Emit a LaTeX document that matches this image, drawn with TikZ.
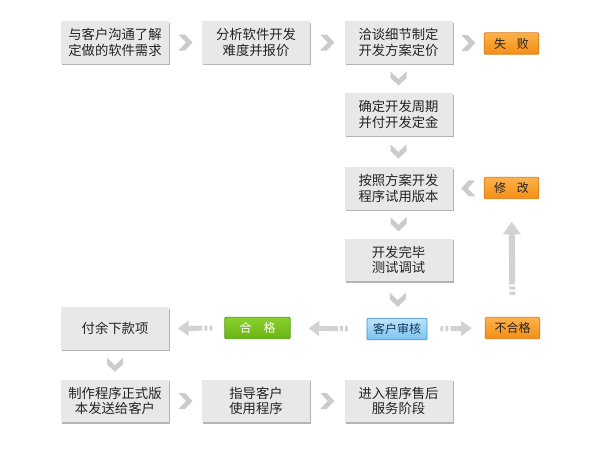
\documentclass[tikz,border=0pt]{standalone}
\usepackage{fontspec}
\setmainfont{Noto Sans CJK SC}
\usetikzlibrary{calc,shadows,arrows.meta}
\definecolor{boxfill}{HTML}{E8E8E8}
\definecolor{boxshadow}{HTML}{B4B4B4}
\definecolor{textdark}{HTML}{222222}
\definecolor{chevgray}{HTML}{CBCBCB}
\definecolor{arrgray}{HTML}{D2D2D2}
\definecolor{orangetop}{HTML}{FCB24C}
\definecolor{orangebot}{HTML}{F48E14}
\definecolor{orangeedge}{HTML}{D97A18}
\definecolor{greentop}{HTML}{8BD02E}
\definecolor{greenbot}{HTML}{6AB414}
\definecolor{greenedge}{HTML}{4E9A10}
\definecolor{bluetop}{HTML}{BCE3FA}
\definecolor{bluebot}{HTML}{7CC3EF}
\definecolor{blueedge}{HTML}{3F8EC7}
\definecolor{bluetext}{HTML}{16375C}
\tikzset{
  stepbox/.style={fill=boxfill, minimum width=81pt, minimum height=32pt, inner sep=0pt,
    align=center, text=textdark, font=\fontsize{10}{11.6}\selectfont,
    drop shadow={shadow xshift=1pt, shadow yshift=-1pt, fill=boxshadow, opacity=1}},
  tagbox/.style={minimum width=41pt, minimum height=16pt, inner sep=0pt, rounded corners=0.8pt,
    font=\fontsize{9}{10}\selectfont},
  orangetag/.style={tagbox, top color=orangetop, bottom color=orangebot, draw=orangeedge, line width=0.6pt, text=textdark},
  greentag/.style={tagbox, minimum width=49pt, top color=greentop, bottom color=greenbot, draw=greenedge, line width=0.6pt, text=white},
  bluetag/.style={tagbox, minimum width=45pt, top color=bluetop, bottom color=bluebot, draw=blueedge, line width=0.6pt, text=bluetext},
  chev/.pic={\fill[chevgray] (-7,-8) -- (-0.5,-8) -- (7,0) -- (-0.5,8) -- (-7,8) -- (0.5,0) -- cycle;},
  harr/.style={draw=arrgray, line width=3.75pt,
    dash pattern=on 2.2pt off 1.6pt on 2.2pt off 1.6pt on 60pt off 0pt,
    -{Triangle[length=8pt,width=11pt]}},
  varr/.style={draw=arrgray, line width=4.5pt,
    dash pattern=on 2.4pt off 1.6pt on 2.4pt off 1.6pt on 80pt off 0pt,
    -{Triangle[length=9.5pt,width=13pt]}}
}
\begin{document}
\begin{tikzpicture}[x=0.75pt,y=-0.75pt]
\useasboundingbox (0,0) rectangle (593,455);
\fill[white] (0,0) rectangle (593,455);

% row 1
\node[stepbox] (b1) at (115,42.5) {与客户沟通了解\\定做的软件需求};
\node[stepbox] (b2) at (256,42.5) {分析软件开发\\难度并报价};
\node[stepbox] (b3) at (398.5,42.5) {洽谈细节制定\\开发方案定价};
\node[orangetag] (fail) at (511.5,43.5) {失\hspace{8pt}败};

% column
\node[stepbox] (b4) at (398.5,114.5) {确定开发周期\\并付开发定金};
\node[stepbox] (b5) at (398.5,188.5) {按照方案开发\\程序试用版本};
\node[orangetag] (mod) at (511.5,188) {修\hspace{8pt}改};
\node[stepbox] (b6) at (398.5,260) {开发完毕\\测试调试};

% review row
\node[bluetag] (rev) at (397,329) {客户审核};
\node[orangetag] (ng) at (512.5,328) {不合格};
\node[greentag] (ok) at (257.5,328) {合\hspace{9pt}格};
\node[stepbox] (pay) at (115,328.5) {付余下款项};

% bottom row
\node[stepbox] (b7) at (115,401) {制作程序正式版\\本发送给客户};
\node[stepbox] (b8) at (256,401) {指导客户\\使用程序};
\node[stepbox] (b9) at (398.5,401) {进入程序售后\\服务阶段};

% chevrons
\pic at ($(b1.east)!0.5!(b2.west)$) {chev};
\pic at ($(b2.east)!0.5!(b3.west)$) {chev};
\pic at ($(b3.east)!0.5!(fail.west)$) {chev};
\pic[rotate=-90] at ($(b3.south)!0.5!(b4.north)$) {chev};
\pic[rotate=-90] at ($(b4.south)!0.5!(b5.north)$) {chev};
\pic[rotate=-90] at ($(b5.south)!0.5!(b6.north)$) {chev};
\pic[rotate=-90] at ($(b6.south)!0.5!(rev.north)$) {chev};
\pic[rotate=180] at ($(b5.east)!0.5!(mod.west)$) {chev};
\pic[rotate=-90] at ($(pay.south)!0.5!(b7.north)$) {chev};
\pic at ($(b7.east)!0.5!(b8.west)$) {chev};
\pic at ($(b8.east)!0.5!(b9.west)$) {chev};

% dashed block arrows
\draw[harr, shorten <=9pt, shorten >=6.5pt] (ok.west) -- (pay.east);
\draw[harr, shorten <=14pt, shorten >=13.5pt] (rev.west) -- (ok.east);
\draw[harr, shorten <=9.75pt, shorten >=9.75pt] (rev.east) -- (ng.west);
\draw[varr, shorten <=16.5pt, shorten >=17pt] (ng.north) -- (mod.south);
\end{tikzpicture}
\end{document}
